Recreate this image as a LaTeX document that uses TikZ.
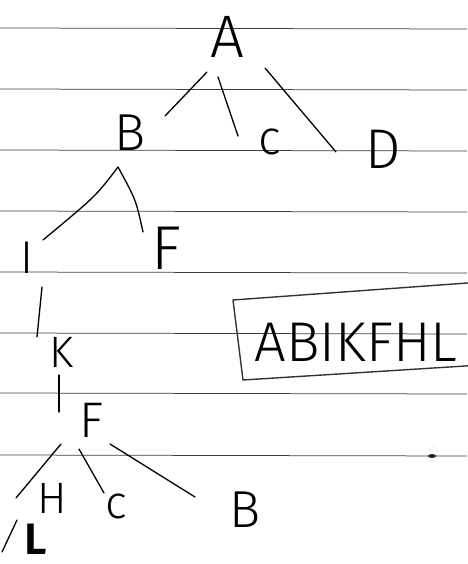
\documentclass[tikz,border=0pt]{standalone}
\usepackage{fontspec}
\setmainfont{Fira Sans}[UprightFont={* Light}, BoldFont={* SemiBold}]
\usetikzlibrary{calc}
\begin{document}
\begin{tikzpicture}[x=1pt, y=-1pt,
  letter/.style={inner sep=0pt, anchor=center, font=\fontsize{#1}{#1}\selectfont},
  edge/.style={line width=1.3pt, line cap=round, line join=round},
  ruled/.style={draw=black!75, line width=0.75pt},
  frame/.style={draw=black!80, line width=1.4pt, line join=round}]
  \useasboundingbox (0,0) rectangle (467,564);
  \fill[white] (0,0) rectangle (467,564);

  % ruled paper
  \foreach \yy in {28,89,150,211,272,333,393,455}
    \draw[ruled] (0,\yy) -- (467,\yy+1);

  % a small ink smudge on the paper
  \fill[black!85] (432,456) ellipse (4 and 2);
  \fill[black!40] (430,449) circle (0.6) (434,447) circle (0.5) (437,451) circle (0.5);

  % letters of the tree
  \node[letter=60] (A)  at (227,37)  {A};
  \node[letter=52] (B1) at (130,133) {B};
  \node[letter=48] (c1) at (270,142) {c};
  \node[letter=56] (D)  at (383,149) {D};
  \node[letter=46] (I)  at (27,258)  {I};
  \node[letter=62] (F1) at (166,248) {F};
  \node[letter=44] (K)  at (62,352)  {K};
  \node[letter=50] (F2) at (92,420)  {F};
  \node[letter=44] (H)  at (52,498)  {H};
  \node[letter=46] (c2) at (116,506) {c};
  \node[letter=52] (B2) at (245,510) {B};
  \node[letter=44, font=\fontsize{44}{44}\selectfont\bfseries] (L) at (36,539) {L};

  % connectors
  \draw[edge] ($(A)+(-20,35)$) -- ($(B1)+(35,-17)$);
  \draw[edge] ($(A)+(-9,40)$)  -- ($(c1)+(-32,-6)$);
  \draw[edge] ($(A)+(38,31)$)  -- ($(D)+(-47,3)$);
  \draw[edge] ($(B1)+(-12,34)$) .. controls ($(B1)+(-34,63)$) .. ($(I)+(16,-18)$);
  \draw[edge] ($(B1)+(-12,34)$) .. controls ($(B1)+(6,67)$) .. ($(F1)+(-23,-16)$);
  \draw[edge] ($(I)+(15,29)$)  -- ($(K)+(-25,-15)$);
  \draw[edge] ($(K)+(-3,23)$)  -- ($(F2)+(-33,-8)$);
  \draw[edge] ($(F2)+(-31,24)$) -- ($(H)+(-36,0)$);
  \draw[edge] ($(F2)+(-13,29)$) -- ($(c2)+(-12,-13)$);
  \draw[edge] ($(F2)+(18,24)$) -- ($(B2)+(-50,-13)$);
  \draw[edge] ($(H)+(-35,22)$) -- ($(L)+(-34,13)$);

  % the traversal order, framed
  \node[letter=56] (order) at (356,342) {ABIKFHL};
  \draw[frame] ($(order)+(125,-60)$) -- ($(order)+(-123,-42)$)
    -- ($(order)+(-113,38)$) -- ($(order)+(125,23)$);
\end{tikzpicture}
\end{document}
